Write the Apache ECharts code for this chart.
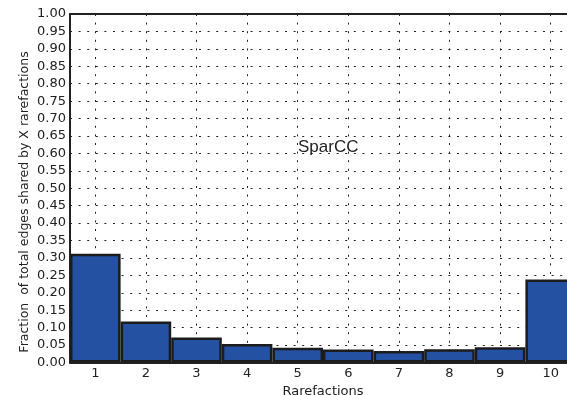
<!DOCTYPE html>
<html>
<head>
<meta charset="utf-8">
<script src="https://cdn.jsdelivr.net/npm/echarts@6/dist/echarts.min.js"></script>
<style>html,body{margin:0;padding:0;background:#fff}#c{width:567px;height:395px}</style>
</head>
<body>
<div id="c"></div>
<script>
var categories = ['1','2','3','4','5','6','7','8','9','10'];
var values = [0.312, 0.118, 0.072, 0.053, 0.042, 0.037, 0.033, 0.038, 0.044, 0.238];
var yTicks = {min: 0, max: 1, step: 0.05};
var annotation = 'SparCC';
var yTitle = 'Fraction  of total edges shared by X rarefactions';

var chart = echarts.init(document.getElementById('c'));
var gridDash = {color: '#222', width: 1, type: [2, 6.6]};
chart.setOption({
  animation: false,
  grid: {left: 70, top: 14, bottom: 32.5, right: -9, containLabel: false, outerBoundsMode: 'none'},
  xAxis: [{
    type: 'category',
    data: categories,
    name: 'Rarefactions',
    nameLocation: 'middle',
    nameGap: 20,
    nameTextStyle: {fontFamily: 'DejaVu Sans', fontSize: 13, color: '#222'},
    axisLine: {lineStyle: {color: '#222', width: 2}},
    axisTick: {show: false, alignWithLabel: true},
    axisLabel: {fontFamily: 'DejaVu Sans', fontSize: 13, color: '#222', margin: 5},
    splitLine: {show: true, alignWithLabel: true, lineStyle: gridDash}
  }, {
    type: 'category',
    data: categories,
    position: 'top',
    axisLine: {lineStyle: {color: '#222', width: 2}},
    axisTick: {show: false},
    axisLabel: {show: false},
    splitLine: {show: false}
  }],
  yAxis: {
    type: 'value',
    min: yTicks.min, max: yTicks.max, interval: yTicks.step,
    axisLine: {show: true, lineStyle: {color: '#222', width: 2}},
    axisTick: {show: false},
    axisLabel: {fontFamily: 'DejaVu Sans', fontSize: 13, color: '#222', margin: 4,
      formatter: function (v) { return v.toFixed(2); }},
    splitLine: {show: true, lineStyle: gridDash}
  },
  series: [{
    type: 'bar',
    data: values,
    barCategoryGap: 0,
    barWidth: '100%',
    itemStyle: {color: '#2451a2', borderColor: '#1c1c1c', borderWidth: 2.5},
    z: 3
  }],
  graphic: [{
    type: 'text',
    x: 25, y: 202,
    rotation: Math.PI / 2,
    style: {text: yTitle, fontFamily: 'DejaVu Sans', fontSize: 12.5, fill: '#222',
      align: 'center', verticalAlign: 'middle'}
  }, {
    type: 'text',
    left: 298, top: 139,
    style: {text: annotation, fontFamily: 'Liberation Sans', fontSize: 17, fill: '#222'}
  }]
});
</script>
</body>
</html>
